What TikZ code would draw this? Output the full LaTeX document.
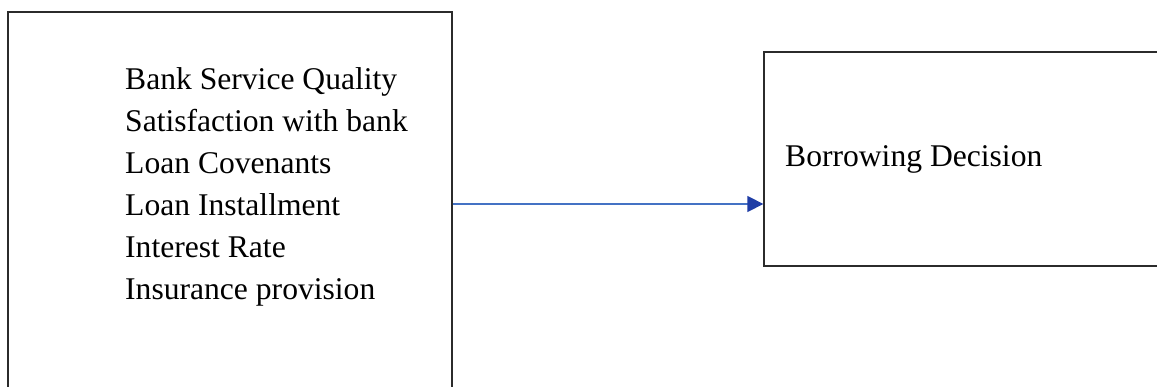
\documentclass[tikz,border=0pt]{standalone}
\usepackage{fontspec}
\setmainfont{Liberation Serif}
\usetikzlibrary{arrows.meta}
\definecolor{boxline}{HTML}{2B2B2B}
\definecolor{arrowline}{HTML}{4472C4}
\definecolor{arrowhead}{HTML}{1F3DA6}
\tikzset{
  framebox/.style={draw=boxline, line width=1.3pt, rectangle, inner sep=0pt},
  label text/.style={font=\fontsize{31.6}{42}\selectfont, anchor=base west, inner sep=0pt},
  link/.style={draw=arrowline, line width=1.3pt, -{Triangle[length=16pt,width=16pt,fill=arrowhead,color=arrowhead]}}
}
\begin{document}
\begin{tikzpicture}[x=1pt,y=-1pt]
\useasboundingbox (0,0) rectangle (1157,387);
\clip (0,0) rectangle (1157,387);
\fill[white] (0,0) rectangle (1157,387);
\node[framebox, minimum width=444pt, minimum height=408pt] (left) at (230,216) {};
\node[framebox, minimum width=436pt, minimum height=214pt] (right) at (982,159) {};
\node[label text] (l1) at (125,90) {Bank Service Quality};
\node[label text] (l2) at (125,132) {Satisfaction with bank};
\node[label text] (l3) at (125,174) {Loan Covenants};
\node[label text] (l4) at (125,216) {Loan Installment};
\node[label text] (l5) at (125,258) {Interest Rate};
\node[label text] (l6) at (125,300) {Insurance provision};
\node[label text] (r1) at (785,167) {Borrowing Decision};
\coordinate (ay) at (0,204);
\draw[link] (left.east |- ay) -- (right.west |- ay);
\end{tikzpicture}
\end{document}
